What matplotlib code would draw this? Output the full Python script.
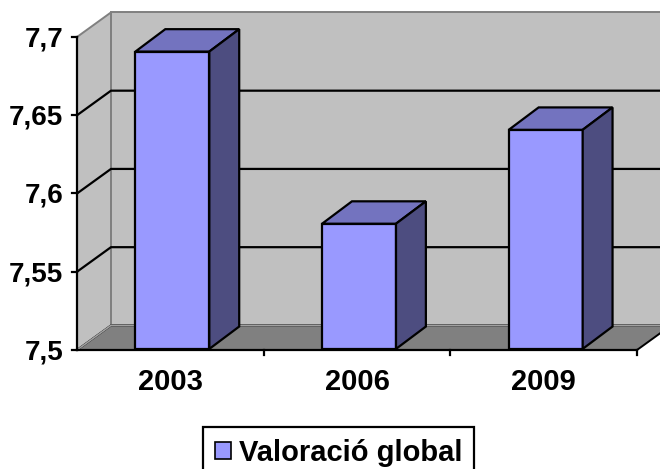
import matplotlib
matplotlib.use("Agg")
import matplotlib.pyplot as plt
from matplotlib.patches import Polygon, Patch

# Data
years = ["2003", "2006", "2009"]
values = [7.69, 7.58, 7.64]
y_ticks = [7.5, 7.55, 7.6, 7.65, 7.7]
y_tick_labels = ["7,5", "7,55", "7,6", "7,65", "7,7"]
series_name = "Valoració global"

# Colours
WALL = "#C0C0C0"
FLOOR = "#808080"
EDGE_GREY = "#808080"
BAR_FRONT = "#9999FF"
BAR_TOP = "#7373BF"
BAR_SIDE = "#4D4D80"

FAMILY = ["Liberation Sans", "DejaVu Sans"]
YFONT = dict(family=FAMILY, fontsize=20, fontweight="bold")
XFONT = dict(family=FAMILY, fontsize=21, fontweight="bold")

fig = plt.figure(figsize=(6.60, 4.69), dpi=100)
ax = fig.add_axes([0, 0, 1, 1])
ax.set_xlim(-0.9125, 2.6232)
ax.set_ylim(7.42396, 7.72364)
ax.axis("off")

ymin, ymax = y_ticks[0], y_ticks[-1]
n = len(years)
x0, x1 = -0.5, n - 0.5

# depth of the 3-D box (data units) and of the columns inside it
ddx, ddy = 0.182, 0.0157
bdx, bdy = 0.160, 0.0143
ox, oy = (ddx - bdx) / 2, (ddy - bdy) / 2
bar_w = 0.396

# back wall
ax.add_patch(Polygon([(x0 + ddx, ymin + ddy), (x1 + ddx, ymin + ddy),
                      (x1 + ddx, ymax + ddy), (x0 + ddx, ymax + ddy)],
                     closed=True, fc=WALL, ec=EDGE_GREY, lw=1.4, zorder=1))
# side wall
ax.add_patch(Polygon([(x0, ymin), (x0 + ddx, ymin + ddy),
                      (x0 + ddx, ymax + ddy), (x0, ymax)],
                     closed=True, fc=WALL, ec=EDGE_GREY, lw=1.4, zorder=1))
# floor
ax.add_patch(Polygon([(x0, ymin), (x1, ymin),
                      (x1 + ddx, ymin + ddy), (x0 + ddx, ymin + ddy)],
                     closed=True, fc=FLOOR, ec="black", lw=1.4, zorder=2))
ax.plot([x0, x0 + ddx, x1 + ddx], [ymin, ymin + ddy, ymin + ddy],
        color="#A0A0A0", lw=1.2, zorder=2.1)

# gridlines on side and back walls
for v in y_ticks[1:-1]:
    ax.plot([x0, x0 + ddx, x1 + ddx], [v, v + ddy, v + ddy],
            color="black", lw=1.6, zorder=3, solid_capstyle="butt")

# axes lines and ticks
tick_dx = 5 / 186.67
tick_dy = 5 / 1565
ax.plot([x0, x0], [ymin, ymax], color="black", lw=1.6, zorder=6)
ax.plot([x0, x1], [ymin, ymin], color="black", lw=1.6, zorder=6)
for v, lab in zip(y_ticks, y_tick_labels):
    ax.plot([x0 - tick_dx, x0], [v, v], color="black", lw=1.6, zorder=6)
    ax.annotate(lab, (x0, v), xytext=(-14, -9.5), textcoords="offset pixels",
                ha="right", va="baseline", **YFONT)
for k in range(1, n + 1):
    xb = k - 0.5
    ax.plot([xb, xb], [ymin, ymin - tick_dy], color="black", lw=1.6, zorder=6)
for i, yr in enumerate(years):
    ax.annotate(yr, (i, ymin), xytext=(0, -40), textcoords="offset pixels",
                ha="center", va="baseline", **XFONT)

# columns
for i, v in enumerate(values):
    xl = i + ox - bar_w / 2
    xr = i + ox + bar_w / 2
    yb = ymin + oy
    yt = v + oy
    ax.add_patch(Polygon([(xl, yb), (xr, yb), (xr, yt), (xl, yt)], closed=True,
                         fc=BAR_FRONT, ec="black", lw=1.6, zorder=5, joinstyle="miter"))
    ax.add_patch(Polygon([(xl, yt), (xr, yt), (xr + bdx, yt + bdy), (xl + bdx, yt + bdy)],
                         closed=True, fc=BAR_TOP, ec="black", lw=1.6, zorder=5,
                         joinstyle="miter"))
    ax.add_patch(Polygon([(xr, yb), (xr + bdx, yb + bdy), (xr + bdx, yt + bdy), (xr, yt)],
                         closed=True, fc=BAR_SIDE, ec="black", lw=1.6, zorder=5,
                         joinstyle="miter"))

# legend
handle = Patch(fc=BAR_FRONT, ec="black", lw=1.2)
leg = fig.legend([handle], [series_name], loc="upper left",
                 bbox_to_anchor=(203 / 660, 1 - 427 / 469), borderaxespad=0,
                 frameon=True, fancybox=False, framealpha=1,
                 handlelength=0.55, handleheight=0.55, handletextpad=0.28,
                 borderpad=0.4,
                 prop=dict(family=FAMILY, size=21, weight="bold"))
leg.get_frame().set_edgecolor("black")
leg.get_frame().set_linewidth(1.6)

fig.savefig("out.png", dpi=100)
